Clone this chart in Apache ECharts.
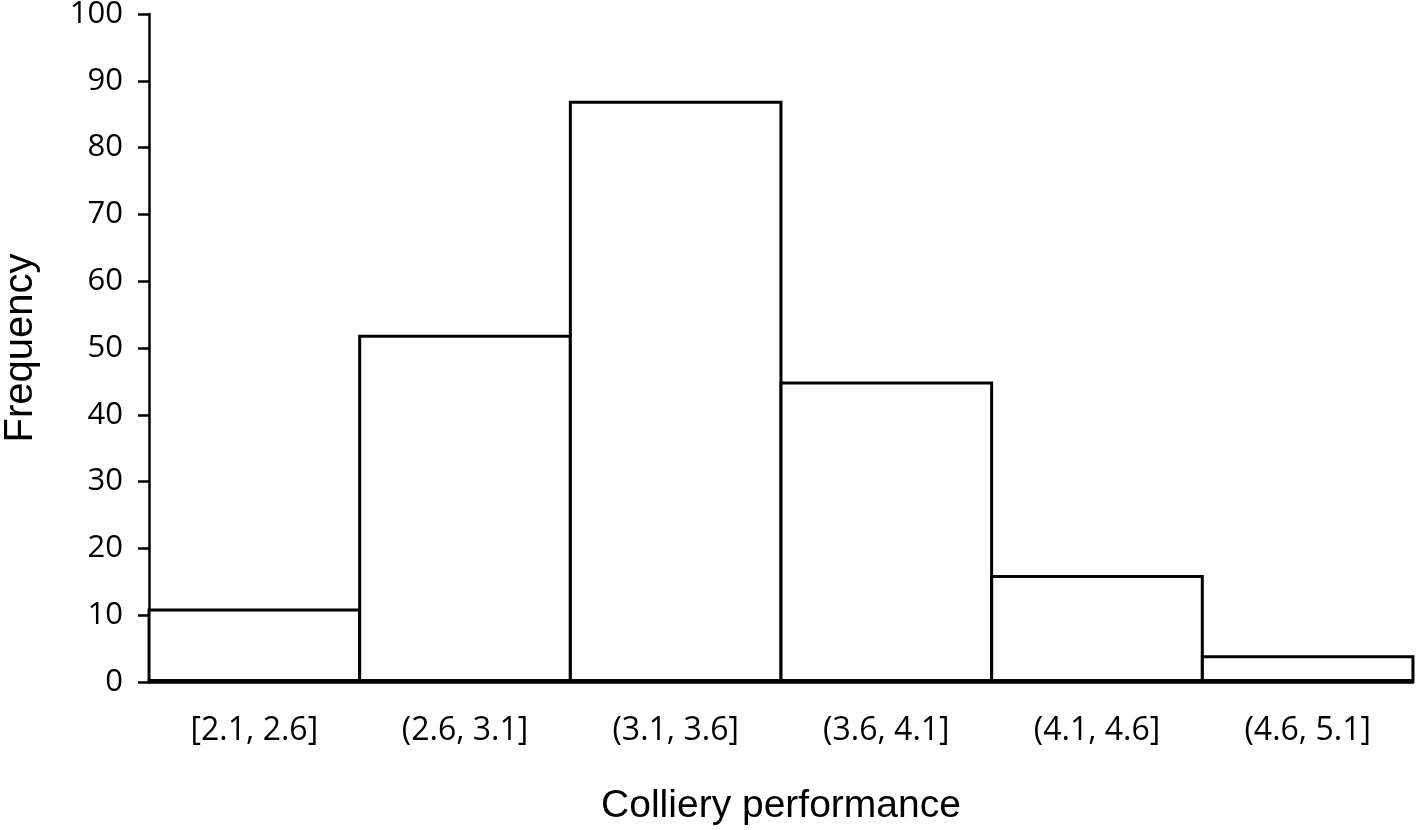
<!DOCTYPE html>
<html>
<head>
<meta charset="utf-8">
<script src="https://cdn.jsdelivr.net/npm/echarts@6/dist/echarts.min.js"></script>
<style>html,body{margin:0;padding:0;background:#fff}#c{width:1418px;height:830px}</style>
</head>
<body>
<div id="c"></div>
<script>
const categories = ['[2.1, 2.6]', '(2.6, 3.1]', '(3.1, 3.6]', '(3.6, 4.1]', '(4.1, 4.6]', '(4.6, 5.1]'];
const frequencies = [11, 52, 87, 45, 16, 4];
const yTicks = {min: 0, max: 100, interval: 10};

const chart = echarts.init(document.getElementById('c'), null, {renderer: 'canvas'});
chart.setOption({
  animation: false,
  backgroundColor: '#fff',
  grid: {left: 149, right: 5, top: 14, bottom: 148, containLabel: false, outerBoundsMode: 'none'},
  xAxis: {
    type: 'category',
    data: categories,
    name: 'Colliery performance',
    nameLocation: 'middle',
    nameGap: 105,
    nameTextStyle: {fontFamily: 'Liberation Sans', fontSize: 39, color: '#000'},
    axisLine: {show: true, lineStyle: {color: '#000', width: 2.5}},
    axisTick: {show: false},
    axisLabel: {fontFamily: 'Open Sans', fontSize: 32, color: '#000', margin: 33},
    splitLine: {show: false}
  },
  yAxis: {
    type: 'value',
    min: yTicks.min, max: yTicks.max, interval: yTicks.interval,
    name: 'Frequency',
    nameLocation: 'middle',
    nameGap: 108,
    nameRotate: 90,
    nameTextStyle: {fontFamily: 'Liberation Sans', fontSize: 40, color: '#000'},
    axisLine: {show: true, lineStyle: {color: '#000', width: 2.5}},
    axisTick: {show: true, inside: false, length: 11, lineStyle: {color: '#000', width: 2.5}},
    axisLabel: {fontFamily: 'Open Sans', fontSize: 31, color: '#000', margin: 26},
    splitLine: {show: false}
  },
  series: [{
    type: 'bar',
    data: frequencies,
    barWidth: '101.4%',
    itemStyle: {color: '#fff', borderColor: '#000', borderWidth: 3}
  }]
});
</script>
</body>
</html>
